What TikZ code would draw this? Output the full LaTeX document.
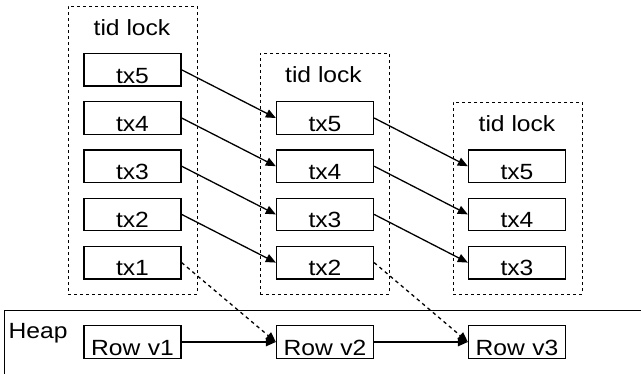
\documentclass[tikz,border=0pt]{standalone}
\usepackage{fontspec}
\setmainfont[FakeStretch=1.12]{Liberation Sans}
\usetikzlibrary{arrows.meta}
\begin{document}
\begin{tikzpicture}[x=1pt,y=-1pt,
  font=\fontsize{22}{26}\selectfont,
  line width=1.3pt,
  txbox/.style={draw, rectangle, inner sep=0pt, minimum width=97pt,
    text width=97pt, align=center, text height=29.5pt, text depth=3pt},
  grp/.style={draw, dashed, dash pattern=on 3pt off 3pt, line width=1pt, rectangle, minimum width=129pt, inner sep=0pt},
  lbl/.style={anchor=base, inner sep=0pt},
  link/.style={-{Triangle[length=10pt,width=8.5pt]}},
  dlink/.style={link, dash pattern=on 3.5pt off 3.5pt},
]
\useasboundingbox (0,0) rectangle (641,373);
\clip (0,0) rectangle (641,373);
% groups
\node[grp, minimum height=288pt] (g1) at (132.5,150) {};
\node[grp, minimum height=241pt] (g2) at (324.5,173.5) {};
\node[grp, minimum height=192pt] (g3) at (517.5,198) {};
\node[lbl] (l1) at (132,35) {tid lock};
\node[lbl] (l2) at (323.5,82) {tid lock};
\node[lbl] (l3) at (517,131) {tid lock};
% group 1
\node[txbox] (a5) at (132.5,69.8) {tx5};
\node[txbox] (a4) at (132.5,118) {tx4};
\node[txbox] (a3) at (132.5,166.2) {tx3};
\node[txbox] (a2) at (132.5,214.4) {tx2};
\node[txbox] (a1) at (132.5,262.6) {tx1};
% group 2
\node[txbox] (b5) at (325,118) {tx5};
\node[txbox] (b4) at (325,166.2) {tx4};
\node[txbox] (b3) at (325,214.4) {tx3};
\node[txbox] (b2) at (325,262.6) {tx2};
% group 3
\node[txbox] (c5) at (517,166.2) {tx5};
\node[txbox] (c4) at (517,214.4) {tx4};
\node[txbox] (c3) at (517,262.6) {tx3};
% heap
\draw (660,310.7) -- (4.5,310.7) -- (4.5,400);
\node[anchor=base west, inner sep=0pt] (heap) at (8,338) {Heap};
\node[txbox] (r1) at (132.5,342) {Row v1};
\node[txbox] (r2) at (325,342) {Row v2};
\node[txbox] (r3) at (517,342) {Row v3};
% links
\draw[link] (a5.east) -- (b5.west);
\draw[link] (a4.east) -- (b4.west);
\draw[link] (a3.east) -- (b3.west);
\draw[link] (a2.east) -- (b2.west);
\draw[link] (b5.east) -- (c5.west);
\draw[link] (b4.east) -- (c4.west);
\draw[link] (b3.east) -- (c3.west);
\draw[dlink] (a1.east) -- (r2.west);
\draw[dlink] (b2.east) -- (r3.west);
\draw[link] (r1.east) -- (r2.west);
\draw[link] (r2.east) -- (r3.west);
\end{tikzpicture}
\end{document}
